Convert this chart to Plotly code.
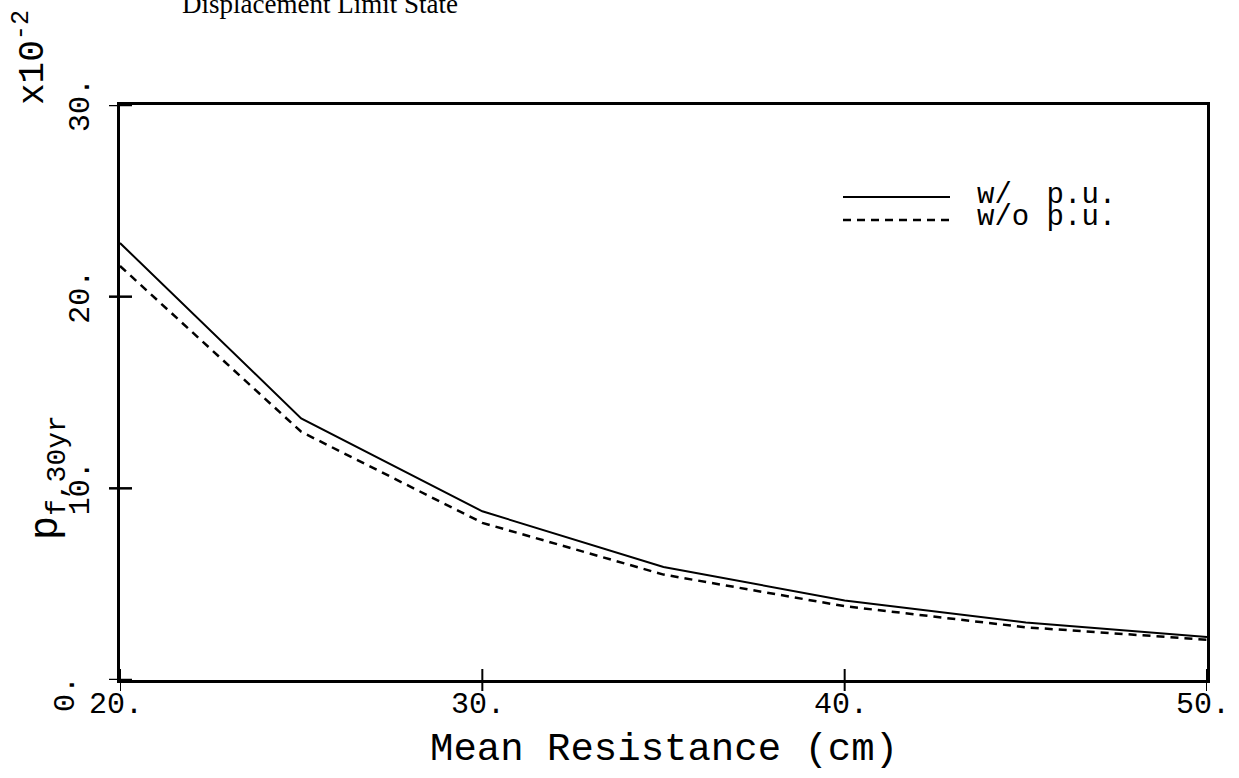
import plotly.graph_objects as go

# Mean resistance (cm) and 30-year failure probability (x10^-2)
resistance = [20, 25, 30, 35, 40, 45, 50]
pf_with_pu = [22.8, 13.65, 8.8, 5.9, 4.15, 3.0, 2.25]
pf_without_pu = [21.6, 12.95, 8.2, 5.5, 3.85, 2.75, 2.1]

x_ticks = [20, 30, 40, 50]
x_tick_text = ["20.", "30.", "40.", "50."]
y_ticks = [0, 10, 20, 30]
y_tick_text = ["0.", "10.", "20.", "30."]

legend_names = ["w/\u00a0\u00a0p.u.", "w/o\u00a0p.u."]

MONO = "Liberation Mono, Courier New, monospace"
L, R, T, B = 120, 32, 105, 98
W, H = 1239, 778
PW, PH = W - L - R, H - T - B

fig = go.Figure()
fig.add_trace(go.Scatter(x=resistance, y=pf_with_pu, mode="lines",
                         line=dict(color="black", width=2), name=legend_names[0],
                         showlegend=False))
fig.add_trace(go.Scatter(x=resistance, y=pf_without_pu, mode="lines",
                         line=dict(color="black", width=2.5, dash="8px,6px"),
                         name=legend_names[1], showlegend=False))

shapes = []
annotations = []

# tick marks crossing the axes
for v in y_ticks:
    shapes.append(dict(type="line", xref="x domain", yref="y",
                       x0=-11 / PW, x1=12 / PW, y0=v, y1=v,
                       line=dict(color="black", width=2.5)))
for v in x_ticks:
    shapes.append(dict(type="line", xref="x", yref="y domain",
                       x0=v, x1=v, y0=-11 / PH, y1=11 / PH,
                       line=dict(color="black", width=2)))

# x tick labels, centred just left of each tick
for v, t in zip(x_ticks, x_tick_text):
    annotations.append(dict(x=v, xref="x", y=-6 / PH, yref="paper",
                            text=t, showarrow=False, xanchor="center", yanchor="top",
                            xshift=-4, font=dict(family=MONO, size=30, color="black")))

# y tick labels (rotated); the zero label is pushed clear of the x labels
for v, t in zip(y_ticks, y_tick_text):
    if v == 0:
        annotations.append(dict(x=(66 - L) / PW, xref="paper", y=v, yref="y",
                                text=t, showarrow=False, textangle=-90,
                                xanchor="center", yanchor="middle", yshift=-14,
                                font=dict(family=MONO, size=30, color="black")))
    else:
        annotations.append(dict(x=-20 / PW, xref="paper", y=v, yref="y",
                                text=t, showarrow=False, textangle=-90,
                                xanchor="right", yanchor="middle",
                                font=dict(family=MONO, size=30, color="black")))

# axis titles
annotations.append(dict(x=0.5, xref="paper", y=-46 / PH, yref="paper",
                        text="Mean Resistance (cm)", showarrow=False,
                        xanchor="center", yanchor="top",
                        font=dict(family=MONO, size=39, color="black")))
annotations.append(dict(x=-72 / PW, xref="paper", y=(680 - 478) / PH, yref="paper",
                        text="p<sub>f,30yr</sub>", showarrow=False, textangle=-90,
                        xanchor="center", yanchor="middle",
                        font=dict(family=MONO, size=40, color="black")))
annotations.append(dict(x=(30 - L) / PW, xref="paper", y=(680 - 58) / PH, yref="paper",
                        text="x10<sup>-2</sup>", showarrow=False, textangle=-90,
                        xanchor="center", yanchor="middle",
                        font=dict(family=MONO, size=36, color="black")))

# partly visible heading above the plot
annotations.append(dict(x=(320 - L) / PW, xref="paper", y=(680 - 21) / PH, yref="paper",
                        text="Displacement Limit State", showarrow=False,
                        xanchor="center", yanchor="bottom",
                        font=dict(family="Liberation Serif, Times New Roman, serif",
                                  size=27, color="black")))

# legend
leg_rows = [(197, dict(color="black", width=2)),
            (220, dict(color="black", width=2.5, dash="8px,6px"))]
for (py, ln), name in zip(leg_rows, legend_names):
    yp = (680 - py) / PH
    shapes.append(dict(type="line", xref="paper", yref="paper",
                       x0=(843 - L) / PW, x1=(950 - L) / PW, y0=yp, y1=yp, line=ln))
    annotations.append(dict(x=(975 - L) / PW, xref="paper", y=yp, yref="paper",
                            text=name, showarrow=False, xanchor="left", yanchor="middle",
                            yshift=2,
                            font=dict(family=MONO, size=29, color="black")))

fig.update_layout(
    width=W, height=H,
    margin=dict(l=L, r=R, t=T, b=B),
    paper_bgcolor="white", plot_bgcolor="white",
    showlegend=False,
    shapes=shapes, annotations=annotations,
    xaxis=dict(range=[20, 50], showgrid=False, zeroline=False, showticklabels=False,
               ticks="", showline=True, mirror=True, linecolor="black", linewidth=2.5),
    yaxis=dict(range=[0, 30], showgrid=False, zeroline=False, showticklabels=False,
               ticks="", showline=True, mirror=True, linecolor="black", linewidth=2.5),
)

fig.write_html("out.html")
